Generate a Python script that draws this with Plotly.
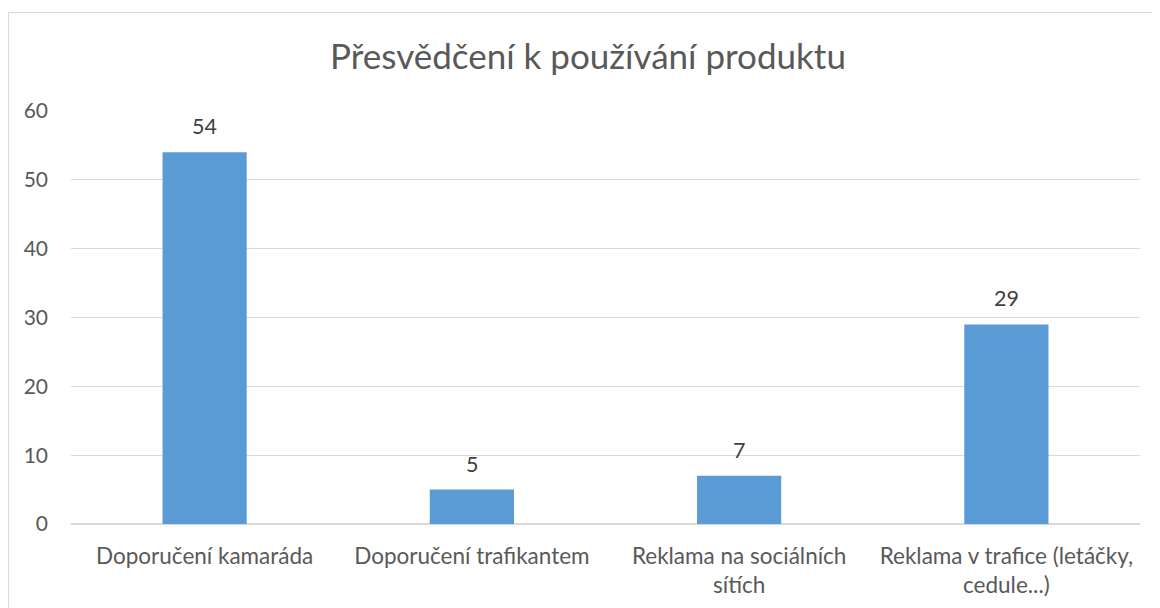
import plotly.graph_objects as go

categories = ["Doporučení kamaráda", "Doporučení trafikantem",
              "Reklama na sociálních<br>sítích", "Reklama v trafice (letáčky,<br>cedule...)"]
values = [54, 5, 7, 29]
title = "Přesvědčení k používání produktu"
y_ticks = [0, 10, 20, 30, 40, 50, 60]

FONT = "Lato, 'Open Sans', sans-serif"
GREY = "#595959"

OFF = 8  # page body margin
L, R, T, B = 71 - OFF, 20 + OFF, 111 - OFF, 84 + OFF
W, H = 1160, 608
pw, ph = W - L - R, H - T - B

fig = go.Figure(go.Bar(
    x=categories, y=values,
    marker=dict(color="#5B9BD5", line=dict(width=0)),
    cliponaxis=False,
))

annotations = [dict(x=c, y=v, xref="x", yref="y", text=str(v), showarrow=False,
                    yanchor="bottom", yshift=11,
                    font=dict(size=21.5, color="#404040", family=FONT))
               for c, v in zip(categories, values)]

fig.update_layout(
    width=W, height=H,
    margin=dict(l=L, r=R, t=T, b=B),
    paper_bgcolor="white", plot_bgcolor="white",
    bargap=0.685,
    title=dict(text=title, x=0.5, xanchor="center", y=1 - (57 - OFF) / H, yanchor="middle",
               font=dict(size=35, color=GREY, family=FONT)),
    font=dict(family=FONT, color=GREY),
    showlegend=False,
    annotations=annotations,
    xaxis=dict(showgrid=False, showline=False, ticks="", ticklabelstandoff=16,
               tickfont=dict(size=22.5, color=GREY)),
    yaxis=dict(range=[0, 60], tickvals=y_ticks, showgrid=True, gridcolor="#d9d9d9", gridwidth=1,
               zeroline=True, zerolinecolor="#d9d9d9", zerolinewidth=1.5,
               showline=False, ticks="", ticklabelstandoff=22,
               tickfont=dict(size=21, color=GREY)),
    shapes=[dict(type="rect", xref="paper", yref="paper",
                 x0=(0.5 - L) / pw, x1=1.3, y0=-0.5, y1=(H - B - (12.5 - OFF)) / ph,
                 line=dict(color="#d9d9d9", width=1), fillcolor="rgba(0,0,0,0)", layer="below")],
)

fig.write_html("out.html")
